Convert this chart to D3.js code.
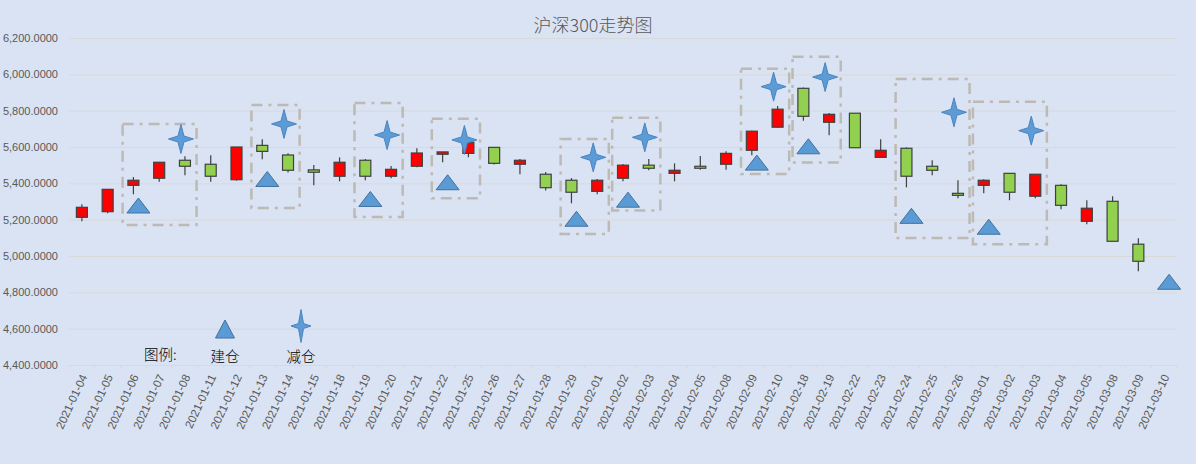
<!DOCTYPE html>
<html>
<head>
<meta charset="utf-8">
<script src="https://cdn.jsdelivr.net/npm/d3@7"></script>
<style>
  body { margin: 0; background: #DAE3F3; }
  svg { display: block; }
</style>
</head>
<body>
<div id="chart"></div>
<script>
// 沪深300走势图 - candlestick with position markers

const dates = [
    '2021-01-04', '2021-01-05', '2021-01-06', '2021-01-07', '2021-01-08', '2021-01-11', '2021-01-12',
    '2021-01-13', '2021-01-14', '2021-01-15', '2021-01-18', '2021-01-19', '2021-01-20', '2021-01-21',
    '2021-01-22', '2021-01-25', '2021-01-26', '2021-01-27', '2021-01-28', '2021-01-29', '2021-02-01',
    '2021-02-02', '2021-02-03', '2021-02-04', '2021-02-05', '2021-02-08', '2021-02-09', '2021-02-10',
    '2021-02-18', '2021-02-19', '2021-02-22', '2021-02-23', '2021-02-24', '2021-02-25', '2021-02-26',
    '2021-03-01', '2021-03-02', '2021-03-03', '2021-03-04', '2021-03-05', '2021-03-08', '2021-03-09',
    '2021-03-10'
];
const openPrices = [
    5213, 5244, 5389, 5428, 5527, 5505, 5420, 5609, 5556, 5474, 5439, 5527, 5439, 5494,
    5560, 5565, 5598, 5505, 5450, 5417, 5356, 5428, 5500, 5455, 5494, 5505, 5582, 5709,
    5923, 5736, 5786, 5543, 5593, 5494, 5345, 5389, 5455, 5329, 5389, 5191, 5301, 5065, null
];
const closePrices = [
    5268, 5367, 5417, 5516, 5494, 5439, 5600, 5576, 5472, 5461, 5516, 5439, 5477, 5567,
    5573, 5626, 5510, 5527, 5376, 5351, 5417, 5500, 5483, 5472, 5483, 5565, 5687, 5808,
    5769, 5780, 5596, 5582, 5439, 5472, 5334, 5417, 5351, 5450, 5279, 5263, 5081, 4971, null
];
const highPrices = [
    5285, 5367, 5435, 5516, 5549, 5554, 5600, 5642, 5565, 5501, 5543, 5534, 5496, 5593,
    5573, 5654, 5598, 5534, 5463, 5429, 5424, 5507, 5534, 5510, 5551, 5576, 5690, 5826,
    5928, 5787, 5786, 5642, 5598, 5527, 5417, 5422, 5455, 5450, 5395, 5307, 5329, 5098, null
];
const lowPrices = [
    5191, 5235, 5340, 5409, 5444, 5409, 5415, 5532, 5459, 5389, 5411, 5417, 5428, 5488,
    5516, 5543, 5503, 5450, 5360, 5290, 5340, 5411, 5472, 5411, 5475, 5475, 5554, 5706,
    5745, 5664, 5596, 5543, 5378, 5444, 5318, 5345, 5307, 5318, 5257, 5175, 5081, 4916, null
];

// 建仓 (triangles) and 减仓 (stars)
const buyDates = ['2021-01-06', '2021-01-13', '2021-01-19', '2021-01-22', '2021-01-29', '2021-02-02',
    '2021-02-09', '2021-02-18', '2021-02-24', '2021-03-01', '2021-03-10'];
const buyPrices = [5278, 5424, 5314, 5406, 5205, 5310, 5514, 5604, 5221, 5161, 4858];
const sellDates = ['2021-01-08', '2021-01-14', '2021-01-20', '2021-01-25', '2021-02-01', '2021-02-03',
    '2021-02-10', '2021-02-19', '2021-02-26', '2021-03-03'];
const sellPrices = [5644, 5727, 5666, 5639, 5543, 5653, 5932, 5985, 5791, 5690];

// highlighted windows
const boxStart = ['2021-01-06', '2021-01-13', '2021-01-19', '2021-01-22', '2021-01-29', '2021-02-02',
    '2021-02-09', '2021-02-18', '2021-02-24', '2021-03-01'];
const boxEnd = ['2021-01-08', '2021-01-14', '2021-01-20', '2021-01-25', '2021-02-01', '2021-02-03',
    '2021-02-10', '2021-02-19', '2021-02-26', '2021-03-03'];
const boxTop = [5727, 5831, 5842, 5756, 5644, 5761, 6031, 6097, 5974, 5849];
const boxBottom = [5171, 5264, 5215, 5318, 5121, 5250, 5451, 5514, 5099, 5065];

const yTicks = [4400, 4600, 4800, 5000, 5200, 5400, 5600, 5800, 6000, 6200];

const width = 1196;
const height = 464;
const plot = { left: 69, right: 1177, top: 38, bottom: 365 };
const latinFont = "'Liberation Sans', Arial, sans-serif";
const cjkFont = "'Noto Sans CJK SC', sans-serif";

const svg = d3.select("#chart").append("svg")
    .attr("width", width)
    .attr("height", height);

// soft edge for the star markers
const defs = svg.append("defs");
const soft = defs.append("filter").attr("id", "soft")
    .attr("x", "-30%").attr("y", "-30%").attr("width", "160%").attr("height", "160%");
soft.append("feGaussianBlur").attr("in", "SourceGraphic").attr("stdDeviation", 0.6);

svg.append("rect")
    .attr("width", width)
    .attr("height", height)
    .attr("fill", "#DAE3F3");

const x = d3.scaleBand().domain(dates).range([plot.left, plot.right]).padding(0);
const y = d3.scaleLinear().domain([4400, 6200]).range([plot.bottom, plot.top]);
const cx = d => x(d) + x.bandwidth() / 2;

// title
svg.append("text")
    .attr("x", 593)
    .attr("y", 32)
    .attr("text-anchor", "middle")
    .attr("font-family", cjkFont)
    .attr("font-size", "18px")
    .attr("font-weight", 300)
    .attr("fill", "#595959")
    .text("沪深300走势图");

// gridlines
svg.append("g")
    .attr("transform", `translate(${plot.left},0)`)
    .call(d3.axisLeft(y).tickValues(yTicks).tickSize(-(plot.right - plot.left)).tickFormat(""))
    .call(g => g.select(".domain").remove())
    .call(g => g.selectAll("line").attr("stroke", "#D9D9D9").attr("stroke-width", 1));

// y axis labels
svg.append("g")
    .attr("transform", `translate(${plot.left},0)`)
    .call(d3.axisLeft(y).tickValues(yTicks).tickSize(0).tickPadding(11).tickFormat(d3.format(",.4f")))
    .call(g => g.select(".domain").remove())
    .call(g => g.selectAll("text")
        .attr("font-family", latinFont)
        .attr("font-size", "11px")
        .attr("fill", "#595959"));

// x axis
const xAxis = svg.append("g")
    .attr("transform", `translate(0,${plot.bottom})`)
    .call(d3.axisBottom(x).tickSize(0).tickPadding(0));
xAxis.select(".domain").attr("stroke", "#D9D9D9");
xAxis.selectAll("text")
    .attr("font-family", latinFont)
    .attr("font-size", "11.5px")
    .attr("fill", "#595959")
    .attr("text-anchor", "end")
    .attr("dy", "0.35em")
    .attr("transform", "translate(2,10) rotate(-65)");

// boundary tick marks
svg.append("g")
    .selectAll("line")
    .data(dates.concat([null]))
    .join("line")
    .attr("x1", d => d === null ? plot.right : x(d))
    .attr("x2", d => d === null ? plot.right : x(d))
    .attr("y1", plot.bottom)
    .attr("y2", plot.bottom + 4)
    .attr("stroke", "#D9D9D9");

// dashed highlight boxes
const step = x.step();
svg.append("g")
    .selectAll("rect")
    .data(boxStart.map((d, i) => ({ start: d, end: boxEnd[i], top: boxTop[i], bottom: boxBottom[i] })))
    .join("rect")
    .attr("x", d => cx(d.start) - step * 0.42)
    .attr("y", d => y(d.top))
    .attr("width", d => cx(d.end) - cx(d.start) + step * 0.87)
    .attr("height", d => y(d.bottom) - y(d.top))
    .attr("fill", "none")
    .attr("stroke", "#BDB9B3")
    .attr("stroke-width", 2.5)
    .attr("stroke-dasharray", "11,6,3,6");

// candlesticks
const candles = dates.map((d, i) => ({
    date: d, open: openPrices[i], close: closePrices[i], high: highPrices[i], low: lowPrices[i]
})).filter(d => d.open !== null);

const bodyWidth = 11;
const candle = svg.append("g")
    .selectAll("g")
    .data(candles)
    .join("g");

candle.append("line")
    .attr("x1", d => cx(d.date))
    .attr("x2", d => cx(d.date))
    .attr("y1", d => y(d.high))
    .attr("y2", d => y(d.low))
    .attr("stroke", "#404040")
    .attr("stroke-width", 1.2);

candle.append("rect")
    .attr("x", d => cx(d.date) - bodyWidth / 2)
    .attr("y", d => y(Math.max(d.open, d.close)))
    .attr("width", bodyWidth)
    .attr("height", d => Math.max(1.5, Math.abs(y(d.open) - y(d.close))))
    .attr("fill", d => d.close >= d.open ? "#FF0000" : "#92D050")
    .attr("stroke", "#404040")
    .attr("stroke-width", 1.2);

// marker shapes
function trianglePath(w, h) {
    return `M0,${-h / 2}L${w / 2},${h / 2}L${-w / 2},${h / 2}Z`;
}
function starPath(w, h, inner) {
    return `M0,${-h / 2}L${inner},${-inner}L${w / 2},0L${inner},${inner}` +
        `L0,${h / 2}L${-inner},${inner}L${-w / 2},0L${-inner},${-inner}Z`;
}

svg.append("g")
    .selectAll("path")
    .data(buyDates.map((d, i) => ({ date: d, price: buyPrices[i] })))
    .join("path")
    .attr("transform", d => `translate(${cx(d.date) + 5},${y(d.price)})`)
    .attr("d", trianglePath(23, 15))
    .attr("fill", "#5B9BD5")
    .attr("stroke", "#41719C")
    .attr("stroke-width", 1);

svg.append("g")
    .selectAll("path")
    .data(sellDates.map((d, i) => ({ date: d, price: sellPrices[i] })))
    .join("path")
    .attr("transform", d => `translate(${cx(d.date) - 4},${y(d.price)})`)
    .attr("d", starPath(25, 29, 3))
    .attr("fill", "#5B9BD5")
    .attr("stroke", "#4A84C0")
    .attr("stroke-width", 1)
    .attr("filter", "url(#soft)");

// legend
const legend = svg.append("g")
    .attr("font-family", cjkFont)
    .attr("font-size", "14.5px")
    .attr("font-weight", 300)
    .attr("fill", "#000");

legend.append("text").attr("x", 144).attr("y", 360).text("图例:");

legend.append("path")
    .attr("transform", "translate(225,329)")
    .attr("d", trianglePath(19, 18))
    .attr("fill", "#5B9BD5")
    .attr("stroke", "#41719C");
legend.append("text").attr("x", 225).attr("y", 362).attr("text-anchor", "middle").text("建仓");

legend.append("path")
    .attr("transform", "translate(301,326)")
    .attr("d", starPath(20, 33, 2.5))
    .attr("fill", "#5B9BD5")
    .attr("stroke", "#4A84C0")
    .attr("filter", "url(#soft)");
legend.append("text").attr("x", 301).attr("y", 362).attr("text-anchor", "middle").text("减仓");
</script>
</body>
</html>
